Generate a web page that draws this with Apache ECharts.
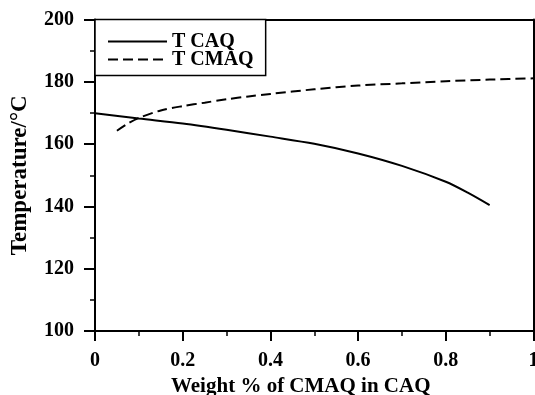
<!DOCTYPE html>
<html>
<head>
<meta charset="utf-8">
<script src="https://cdn.jsdelivr.net/npm/echarts@6/dist/echarts.min.js"></script>
<style>
html,body{margin:0;padding:0;background:#fff;}
#chart{width:535px;height:395px;}
</style>
</head>
<body>
<div id="chart"></div>
<script>
// Data
const xCAQ = [0, 0.1, 0.2, 0.3, 0.4, 0.5, 0.6, 0.7, 0.8, 0.85, 0.9];
const tCAQ = [169.9, 168.2, 166.6, 164.6, 162.4, 160.1, 157.0, 153.0, 147.9, 144.4, 140.4];
const xCMAQ = [0.05, 0.075, 0.1, 0.15, 0.2, 0.25, 0.3, 0.35, 0.4, 0.5, 0.6, 0.7, 0.8, 0.9, 1.0];
const tCMAQ = [164.3, 166.6, 168.4, 170.8, 172.2, 173.3, 174.4, 175.3, 176.1, 177.6, 178.8, 179.5, 180.2, 180.7, 181.1];
const seriesNames = ['T CAQ', 'T CMAQ'];
const xTitle = 'Weight % of CMAQ in CAQ';
const yTitle = 'Temperature/\u00B0C';

const FONT = 'Liberation Serif';
const pair = (xs, ys) => xs.map((x, i) => [x, ys[i]]);

const chart = echarts.init(document.getElementById('chart'), null, {renderer: 'canvas'});
chart.setOption({
  animation: false,
  backgroundColor: '#fff',
  grid: {left: 95, right: 1.5, top: 19.5, bottom: 64, containLabel: false, outerBoundsMode: 'none'},
  legend: {
    orient: 'vertical',
    left: 95, top: 19.5,
    padding: [12, 12, 6, 12],
    itemGap: -2,
    itemWidth: 59, itemHeight: 14,
    backgroundColor: '#fff',
    borderColor: '#000', borderWidth: 1.5,
    z: 10,
    itemStyle: {opacity: 0},
    textStyle: {fontFamily: FONT, fontWeight: 'bold', fontSize: 20, color: '#000', lineHeight: 17},
    data: seriesNames
  },
  xAxis: [{
    type: 'value', min: 0, max: 1, interval: 0.2,
    position: 'bottom',
    name: xTitle, nameLocation: 'middle', nameGap: 41,
    nameTextStyle: {fontFamily: FONT, fontWeight: 'bold', fontSize: 21, color: '#000', padding: [0, 27, 0, 0]},
    axisLine: {show: true, onZero: false, lineStyle: {color: '#000', width: 2}},
    axisTick: {show: true, inside: false, length: 10, lineStyle: {color: '#000', width: 2}},
    minorTick: {show: true, splitNumber: 2, length: 5, lineStyle: {color: '#000', width: 1.5}},
    axisLabel: {fontFamily: FONT, fontWeight: 'bold', fontSize: 20, color: '#000', margin: 20},
    splitLine: {show: false}
  }, {
    type: 'value', min: 0, max: 1, position: 'top',
    axisLine: {show: true, onZero: false, lineStyle: {color: '#000', width: 2}},
    axisTick: {show: false}, axisLabel: {show: false}, splitLine: {show: false}
  }],
  yAxis: [{
    type: 'value', min: 100, max: 200, interval: 20,
    position: 'left',
    name: yTitle, nameLocation: 'middle', nameGap: 63, nameRotate: 90,
    nameTextStyle: {fontFamily: FONT, fontWeight: 'bold', fontSize: 23, color: '#000'},
    axisLine: {show: true, onZero: false, lineStyle: {color: '#000', width: 2}},
    axisTick: {show: true, inside: false, length: 11, lineStyle: {color: '#000', width: 2}},
    minorTick: {show: true, splitNumber: 2, length: 5, lineStyle: {color: '#000', width: 1.5}},
    axisLabel: {fontFamily: FONT, fontWeight: 'bold', fontSize: 20, color: '#000', margin: 21},
    splitLine: {show: false}
  }, {
    type: 'value', min: 100, max: 200, interval: 20, position: 'right',
    axisLine: {show: true, onZero: false, lineStyle: {color: '#000', width: 2}},
    axisTick: {show: false}, axisLabel: {show: false}, splitLine: {show: false}
  }],
  series: [{
    name: seriesNames[0], type: 'line', xAxisIndex: 0, yAxisIndex: 0,
    data: pair(xCAQ, tCAQ), symbol: 'none', smooth: 0.3,
    lineStyle: {color: '#000', width: 2, type: 'solid'},
    itemStyle: {color: '#000'}
  }, {
    name: seriesNames[1], type: 'line', xAxisIndex: 0, yAxisIndex: 0,
    data: pair(xCMAQ, tCMAQ), symbol: 'none', smooth: 0.3,
    lineStyle: {color: '#000', width: 2, type: [10, 5]},
    itemStyle: {color: '#000'}
  }]
});
</script>
</body>
</html>
